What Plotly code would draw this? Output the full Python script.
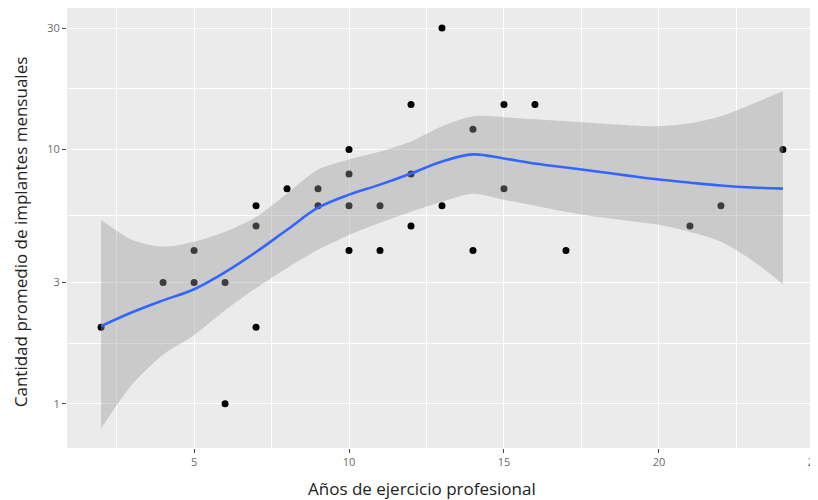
import plotly.graph_objects as go

# Scatter data
years = [2, 4, 5, 5, 6, 6, 7, 7, 7, 8, 9, 9, 10, 10, 10, 10, 11, 11, 12, 12, 12,
         13, 13, 14, 14, 15, 15, 16, 17, 21, 22, 24]
implants = [2, 3, 3, 4, 3, 1, 6, 5, 2, 7, 7, 6, 10, 8, 6, 4, 6, 4, 15, 8, 5,
            30, 6, 12, 4, 15, 7, 15, 4, 5, 6, 10]

# Smoothed fit
fit_x = list(range(2, 25))
fit_y = [2.02, 2.29, 2.55, 2.82, 3.29, 3.95, 4.83, 5.90, 6.64, 7.27, 8.04, 8.97,
         9.56, 9.21, 8.80, 8.49, 8.19, 7.89, 7.61, 7.40, 7.21, 7.08, 7.01]
fit_upper = [5.29, 4.41, 4.14, 4.33, 4.74, 5.43, 6.70, 8.33, 9.13, 9.82, 10.75, 12.33,
             13.50, 13.38, 13.14, 12.90, 12.67, 12.44, 12.33, 12.67, 13.50, 15.06, 16.95]
fit_lower = [0.80, 1.19, 1.56, 1.86, 2.33, 2.85, 3.42, 4.03, 4.61, 5.15, 5.69, 6.23,
             6.70, 6.34, 6.01, 5.69, 5.43, 5.24, 5.05, 4.74, 4.33, 3.67, 2.95]

x_ticks = [5, 10, 15, 20, 25]
y_ticks = [1, 3, 10, 30]
y_minor = [1.732, 5.477, 17.32]
x_minor = [2.5, 7.5, 12.5, 17.5, 22.5]

x_title = "Años de ejercicio profesional"
y_title = "Cantidad promedio de implantes mensuales"

fig = go.Figure()
fig.add_trace(go.Scatter(x=years, y=implants, mode="markers",
                         marker=dict(color="black", size=7), showlegend=False))
fig.add_trace(go.Scatter(x=fit_x, y=fit_lower, mode="lines",
                         line=dict(width=0, shape="spline", smoothing=0.8),
                         showlegend=False, hoverinfo="skip"))
fig.add_trace(go.Scatter(x=fit_x, y=fit_upper, mode="lines", fill="tonexty",
                         fillcolor="rgba(153,153,153,0.4)",
                         line=dict(width=0, shape="spline", smoothing=0.8),
                         showlegend=False, hoverinfo="skip"))
fig.add_trace(go.Scatter(x=fit_x, y=fit_y, mode="lines",
                         line=dict(color="#3366FF", width=2.6, shape="spline"),
                         showlegend=False))

axis_common = dict(
    showgrid=True, gridcolor="white", gridwidth=1.2, zeroline=False,
    ticks="outside", ticklen=4, tickcolor="#444444", tickwidth=1,
    tickfont=dict(family="Open Sans", size=11, color="#6b6b6b"),
    showline=False, automargin=False, ticklabeloverflow="allow",
)

fig.update_layout(
    width=810, height=492,
    margin=dict(l=59, r=1, t=0, b=52),
    paper_bgcolor="white", plot_bgcolor="#EBEBEB",
    font=dict(family="Open Sans", color="#222222"),
    xaxis=dict(range=[0.9, 25.1], tickvals=x_ticks,
               minor=dict(tickmode="array", tickvals=x_minor, showgrid=True,
                          gridcolor="white", gridwidth=0.5, ticks=""),
               **axis_common),
    yaxis=dict(type="log", range=[-0.174, 1.556], tickvals=y_ticks,
               ticktext=[str(v) for v in y_ticks],
               minor=dict(tickmode="array", tickvals=y_minor, showgrid=True,
                          gridcolor="white", gridwidth=0.5, ticks=""),
               **axis_common),
    annotations=[
        dict(text=x_title, xref="paper", yref="paper", x=0.473, y=-0.091,
             xanchor="center", yanchor="middle", showarrow=False,
             font=dict(size=17, color="#222222", family="Open Sans")),
        dict(text=y_title, xref="paper", yref="paper", x=-0.061, y=0.491,
             xanchor="center", yanchor="middle", showarrow=False, textangle=-90,
             borderpad=0,
             font=dict(size=17, color="#222222", family="Open Sans")),
    ],
)

fig.write_html("out.html")
